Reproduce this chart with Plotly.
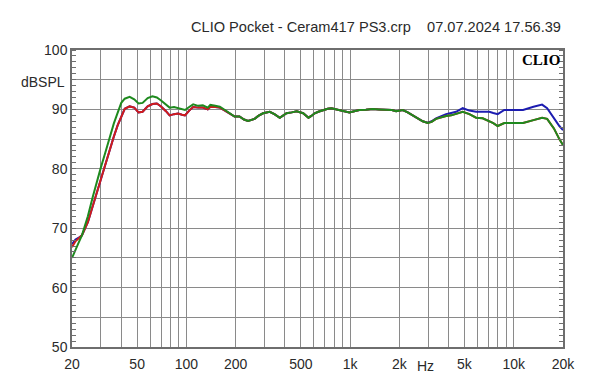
import plotly.graph_objects as go

freqs = [20, 21, 22, 23, 25, 26.8, 28, 30, 32, 34,
         36, 38, 40, 42, 45, 48, 51, 54, 58, 62,
         66, 70, 75, 79, 84, 89, 94, 98, 104, 110,
         118, 126, 135, 140, 150, 160, 172, 184, 197, 211,
         225, 238, 250, 261, 275, 294, 323, 345, 372, 390,
         409, 440, 472, 517, 557, 580, 608, 640, 684, 730,
         770, 815, 860, 920, 990, 1060, 1140, 1250, 1375, 1500,
         1660, 1800, 1910, 2100, 2250, 2420, 2600, 2780, 2980, 3150,
         3350, 3600, 3860, 4150, 4440, 4880, 5360, 5890, 6460, 7090,
         7500, 7980, 8760, 9880, 11400, 13200, 14900, 16000, 17600, 19000,
         20000]

green_db = [65.0, 66.2, 67.6, 68.8, 72.0, 75.3, 77.3, 80.2, 82.8, 85.5,
            87.6, 89.4, 91.1, 91.8, 92.1, 91.7, 91.0, 91.1, 91.9, 92.2,
            92.0, 91.5, 90.8, 90.3, 90.4, 90.2, 90.0, 89.9, 90.4, 90.85,
            90.6, 90.7, 90.3, 90.75, 90.6, 90.45, 89.9, 89.35, 88.8, 88.8,
            88.3, 88.05, 88.2, 88.4, 88.9, 89.35, 89.6, 89.2, 88.6, 89.0,
            89.35, 89.5, 89.7, 89.35, 88.6, 88.9, 89.35, 89.6, 89.9, 90.1,
            90.2, 90.05, 89.9, 89.7, 89.5, 89.7, 89.9, 89.95, 90.05, 90.0,
            90.0, 89.9, 89.7, 89.9, 89.5, 89.0, 88.4, 88.0, 87.7, 87.9,
            88.4, 88.7, 88.9, 89.0, 89.2, 89.6, 89.2, 88.6, 88.5, 88.0,
            87.7, 87.2, 87.7, 87.7, 87.7, 88.2, 88.6, 88.4, 86.8, 85.0,
            84.0]

red_db = [66.8, 67.8, 68.3, 68.8, 71.0, 73.8, 75.5, 78.3, 80.8, 83.2,
          85.4, 87.3, 88.9, 90.1, 90.5, 90.3, 89.5, 89.6, 90.5, 90.9,
          91.0, 90.5, 89.7, 89.0, 89.2, 89.3, 89.1, 89.0, 89.8, 90.4,
          90.3, 90.3, 90.0, 90.45, 90.4, 90.3, 89.8, 89.35, 88.8, 88.8,
          88.3, 88.05, 88.2, 88.4, 88.9, 89.35, 89.6, 89.2, 88.6, 89.0,
          89.35, 89.5, 89.7, 89.35, 88.6, 88.9, 89.35, 89.6, 89.9, 90.1,
          90.2, 90.05, 89.9, 89.7, 89.5, 89.7, 89.9, 89.95, 90.05, 90.0,
          90.0, 89.9, 89.7, 89.9, 89.5, 89.0, 88.4, 88.0, 87.7, 87.9,
          88.4, 88.7, 88.9, 89.0, 89.2, 89.6, 89.2, 88.6, 88.5, 88.0,
          87.7, 87.2, 87.7, 87.7, 87.7, 88.2, 88.6, 88.4, 86.8, 85.0,
          84.0]

blue_db = [67.3, 68.1, 68.4, 68.8, 71.0, 73.8, 75.5, 78.3, 80.8, 83.2,
           85.4, 87.3, 88.9, 90.1, 90.5, 90.3, 89.5, 89.6, 90.5, 90.9,
           91.0, 90.5, 89.7, 89.0, 89.2, 89.3, 89.1, 89.0, 89.8, 90.4,
           90.3, 90.3, 90.0, 90.45, 90.4, 90.3, 89.8, 89.35, 88.8, 88.8,
           88.3, 88.05, 88.2, 88.4, 88.9, 89.35, 89.6, 89.2, 88.6, 89.0,
           89.35, 89.5, 89.7, 89.35, 88.6, 88.9, 89.35, 89.6, 89.9, 90.1,
           90.2, 90.05, 89.9, 89.7, 89.5, 89.7, 89.9, 89.95, 90.05, 90.0,
           90.0, 89.9, 89.7, 89.9, 89.5, 89.0, 88.4, 88.0, 87.75, 88.0,
           88.5, 88.9, 89.2, 89.4, 89.6, 90.2, 89.8, 89.6, 89.6, 89.6,
           89.4, 89.2, 89.9, 89.9, 89.9, 90.45, 90.8, 90.2, 88.5, 87.2,
           86.5]

x_grid = [20, 30, 40, 50, 60, 70, 80, 90, 100, 200, 300, 400, 500, 600, 700, 800, 900,
          1000, 2000, 3000, 4000, 5000, 6000, 7000, 8000, 9000, 10000, 20000]
x_labels = {20: "20", 50: "50", 100: "100", 200: "200", 500: "500", 1000: "1k",
            2000: "2k", 5000: "5k", 10000: "10k", 20000: "20k"}
y_grid = [50, 55, 60, 65, 70, 75, 80, 85, 90, 95, 100]
y_labels = {50: "50", 60: "60", 70: "70", 80: "80", 90: "90", 100: "100"}

title_text = "CLIO Pocket - Ceram417 PS3.crp&nbsp;&nbsp;&nbsp;&nbsp;07.07.2024 17.56.39"

fig = go.Figure()
for vals, col in [(blue_db, "#1c1cb0"), (red_db, "#d01c1c"), (green_db, "#1e8a1e")]:
    fig.add_trace(go.Scatter(x=freqs, y=vals, mode="lines",
                             line=dict(color=col, width=2), showlegend=False,
                             hoverinfo="skip"))

font_family = "Liberation Sans, Arial, sans-serif"
axis_col = "#6e6e6e"
grid_col = "#8a8a8a"

fig.update_layout(
    width=600, height=384,
    margin=dict(l=64, r=45, t=42, b=45),
    paper_bgcolor="white", plot_bgcolor="white",
    font=dict(family=font_family, size=14, color="#2a2a2a"),
    xaxis=dict(type="log", range=[1.30103, 4.30103],
               tickmode="array", tickvals=x_grid,
               ticktext=[x_labels.get(v, "") for v in x_grid],
               showgrid=True, gridcolor=grid_col, gridwidth=1,
               showline=True, linecolor=axis_col, linewidth=1.5, mirror=True,
               ticks="", zeroline=False, ticklabelstandoff=3),
    yaxis=dict(range=[50, 100],
               tickmode="array", tickvals=y_grid,
               ticktext=[y_labels.get(v, "") for v in y_grid],
               showgrid=True, gridcolor=grid_col, gridwidth=1,
               showline=True, linecolor=axis_col, linewidth=1.5, mirror="allticks",
               ticks="", zeroline=False, ticklabelstandoff=0,
               minor=dict(tickmode="linear", tick0=50, dtick=1, ticks="inside",
                          ticklen=4, tickcolor=axis_col, showgrid=False)),
    annotations=[
        dict(text=title_text, xref="paper", yref="paper", x=1.0, y=1 + 23 / 297,
             xanchor="right", yanchor="middle", showarrow=False,
             font=dict(size=14.6, color="#2a2a2a")),
        dict(text="dBSPL", xref="paper", yref="paper", x=-5 / 491, y=1 - 32 / 297,
             xanchor="right", yanchor="middle", showarrow=False,
             font=dict(size=14, color="#2a2a2a")),
        dict(text="Hz", xref="paper", yref="paper", x=(425 - 72) / 491, y=-19 / 297,
             xanchor="center", yanchor="middle", showarrow=False,
             font=dict(size=14, color="#2a2a2a")),
        dict(text="<b>CLIO</b>", xref="paper", yref="paper", x=1.0, y=1.0,
             xanchor="right", yanchor="top", showarrow=False, xshift=-1,
             font=dict(size=15, color="black",
                       family="Liberation Serif, Times New Roman, serif")),
    ],
)

fig.write_html("out.html")
